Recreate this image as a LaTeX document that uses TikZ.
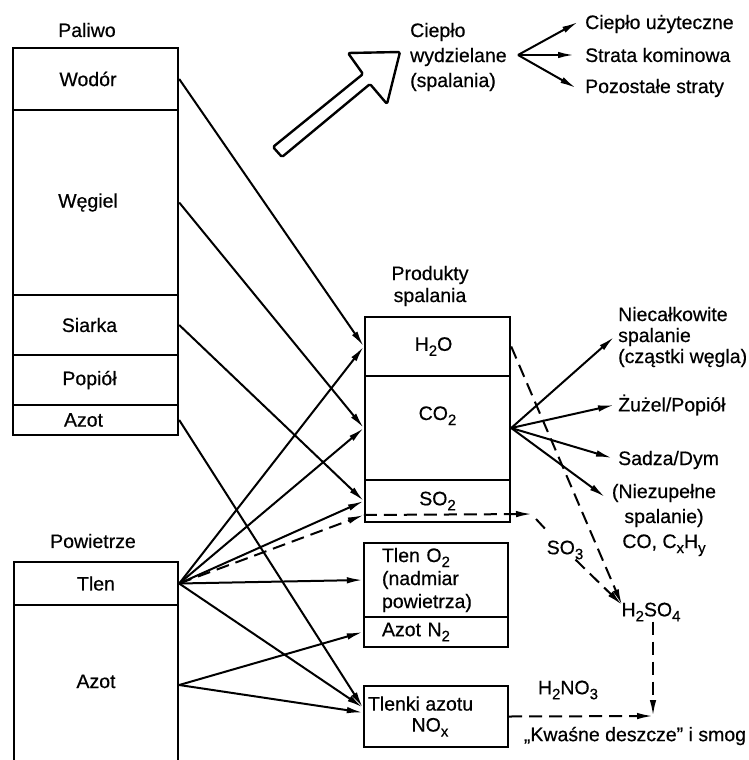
\documentclass[tikz,border=0pt]{standalone}
\usepackage{fontspec}
\setmainfont{Liberation Sans}[FakeBold=0.5]
\usetikzlibrary{arrows.meta,calc}
\newcommand\sbx[1]{\raisebox{-5pt}{\fontsize{15}{15}\selectfont #1}}
\begin{document}
\begin{tikzpicture}[x=1pt,y=-1pt,
  font=\fontsize{19.5}{23}\selectfont,
  box/.style={draw,line width=2.4pt,inner sep=0pt},
  lbl/.style={inner sep=0pt},
  con/.style={line width=2pt,-{Latex[length=16pt,width=6.5pt]}},
  dsh/.style={line width=2pt,dash pattern=on 13pt off 7pt},
  tipped/.style={-{Latex[length=16pt,width=6.5pt]}},
]
\useasboundingbox (0,0) rectangle (749,760);
\begin{scope}
\clip (0,0) rectangle (749,760);
% ---------- Paliwo ----------
\node[lbl] (paliwo) at (87,30) {Paliwo};
\node[box,minimum width=165pt,minimum height=62pt] (wodor) at (95.5,79) {Wodór\hspace*{15pt}};
\node[box,minimum width=165pt,minimum height=185pt] (wegiel) at (95.5,202.5) {Węgiel\hspace*{15pt}};
\node[box,minimum width=165pt,minimum height=60pt] (siarka) at (95.5,325) {Siarka\hspace*{12pt}};
\node[box,minimum width=165pt,minimum height=50pt] (popiol) at (95.5,380) {Popiół\hspace*{12pt}};
\node[box,minimum width=165pt,minimum height=30pt] (azotp) at (95.5,420) {Azot\hspace*{24pt}};
% ---------- Powietrze ----------
\node[lbl] (powietrze) at (93,541) {Powietrze};
\node[box,minimum width=164pt,minimum height=43pt] (tlen) at (96,583.5) {Tlen};
\node[box,minimum width=164pt,minimum height=160pt] (azota) at (96,685) {\smash{\raisebox{-3pt}{Azot}}};
% ---------- Produkty ----------
\node[lbl,align=center,font=\fontsize{19.5}{22}\selectfont] (prod) at (430,286) {Produkty\\spalania};
\node[box,minimum width=145pt,minimum height=59pt] (h2o) at (437.5,346.5) {H\sbx{2}O\hspace*{8pt}};
\node[box,minimum width=145pt,minimum height=104pt] (co2) at (437.5,428) {\smash{\raisebox{8pt}{CO\sbx{2}}}};
\node[box,minimum width=145pt,minimum height=42pt] (so2) at (437.5,501) {SO\sbx{2}};
\node[box,minimum width=144pt,minimum height=74pt,text width=108pt,align=left] (tleno2) at (436,580) {Tlen O\sbx{2}\\(nadmiar\\powietrza)};
\node[box,minimum width=144pt,minimum height=30pt,text width=108pt,align=left] (azotn2) at (436,632) {Azot N\sbx{2}};
\node[box,minimum width=144pt,minimum height=61pt,align=center,font=\fontsize{19.5}{21}\selectfont] (tlenki) at (436,716.5) {\makebox[136pt][l]{Tlenki azotu}\\NO\sbx{x}\hspace*{12pt}};
% ---------- Heat ----------
\draw[line width=2.4pt,line join=round,rounded corners=1.5pt] (273,147) -- (363,74) -- (348,53) -- (400,52) -- (387,104) -- (370,84) -- (282,157) -- cycle;
\node[lbl,align=left,anchor=west,font=\fontsize{19.5}{25}\selectfont] (cieplo) at (410,57) {Ciepło\\wydzielane\\(spalania)};
\node[lbl,anchor=west] (u1) at (585,24) {Ciepło użyteczne};
\node[lbl,anchor=west] (u2) at (585,55) {Strata kominowa};
\node[lbl,anchor=west] (u3) at (585,88) {Pozostałe straty};
\coordinate (hf) at (518,55);
\draw[con] (hf) -- ([xshift=-7pt,yshift=2pt]u1.west);
\draw[con] (hf) -- ([xshift=-11pt]u2.west);
\draw[con] (hf) -- ([xshift=-9pt]u3.west);
% ---------- Right labels ----------
\node[lbl,align=left,anchor=west,font=\fontsize{19.5}{21}\selectfont] (niecal) at (618,337) {Niecałkowite\\spalanie\\(cząstki węgla)};
\node[lbl,anchor=west] (zuzel) at (618,405) {Żużel/Popiół};
\node[lbl,anchor=west] (sadza) at (618,460) {Sadza/Dym};
\node[lbl,align=center,font=\fontsize{19.5}{25}\selectfont] (niezup) at (664,520) {(Niezupełne\\spalanie)\\CO, C\sbx{x}H\sbx{y}};
\node[lbl] (so3) at (565,550) {SO\sbx{3}};
\node[lbl] (h2so4) at (651,612) {H\sbx{2}SO\sbx{4}};
\node[lbl] (h2no3) at (568,690) {H\sbx{2}NO\sbx{3}};
\node[lbl] (kwasne) at (635,736) {„Kwaśne deszcze" i smog};
% ---------- CO2 fan ----------
\draw[con] (co2.east) -- ([xshift=-4pt]niecal.west);
\draw[con] (co2.east) -- ([xshift=-4pt]zuzel.west);
\draw[con] (co2.east) -- ([xshift=-6pt,yshift=2pt]sadza.west);
\coordinate (n4) at (605,497);
\draw[con] (co2.east) -- (n4);
% ---------- fuel connectors ----------
\draw[con] (wodor.east) -- (h2o.west);
\draw[con] (wegiel.east) -- (co2.west);
\draw[con] (siarka.east) -- (so2.west);
\draw[con] (azotp.east) -- ([yshift=9pt]tlenki.west);
% ---------- air connectors ----------
\coordinate (so2d) at ([yshift=-14pt]so2.west);
\draw[con] (tlen.east) -- (h2o.west);
\draw[con] (tlen.east) -- (co2.west);
\draw[con] (tlen.east) -- (so2.west);
\draw[dsh,tipped] (tlen.east) -- (so2d);
\draw[con] (tlen.east) -- (tleno2.west);
\draw[con] (tlen.east) -- ([yshift=9pt]tlenki.west);
\draw[con] (azota.east) -- (azotn2.west);
\draw[con] (azota.east) -- ([yshift=4pt]tlenki.west);
% ---------- dashed chemistry ----------
\coordinate (sx) at (532,514);
\coordinate (sz) at (549,533);
\coordinate (hs) at (622,605);
\coordinate (kc) at (653,716);
\draw[dsh,tipped] (so2d) -- (sx);
\draw[dsh] ([shift={(4,5)}]sx) -- (sz);
\draw[dsh,tipped] ([xshift=-8pt]so3.south east) -- (hs);
\draw[dsh,tipped] (h2o.east) -- (hs);
\draw[dsh,tipped] (h2so4.south -| kc) -- (kc);
\draw[dsh,tipped] (tlenki.east) -- (kc);
\end{scope}
\end{tikzpicture}
\end{document}
